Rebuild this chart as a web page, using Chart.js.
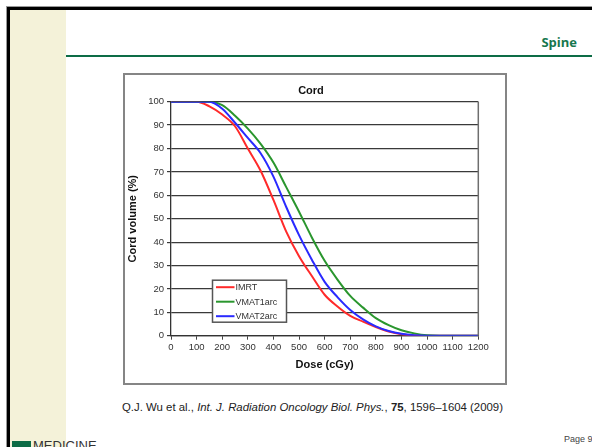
<!DOCTYPE html>
<html>
<head>
<meta charset="utf-8">
<script src="https://cdn.jsdelivr.net/npm/chart.js@4.4.1/dist/chart.umd.min.js"></script>
<style>
    body { margin: 0; background: #fff; width: 592px; height: 447px; overflow: hidden; position: relative; font-family: "Liberation Sans", Arial, sans-serif; }
    .frame-gray { position: absolute; left: 6px; top: 6px; width: 600px; height: 460px; border-top: 1px solid #999; border-left: 1px solid #999; }
    .frame { position: absolute; left: 7px; top: 7px; width: 600px; height: 460px; border-top: 3px solid #000; border-left: 3px solid #000; }
    .side { position: absolute; left: 10px; top: 10px; width: 56px; height: 437px; background: #f4f2d9; }
    .rule { position: absolute; left: 66px; top: 55px; width: 526px; height: 2px; background: #0d6c46; }
    .heading { position: absolute; right: 15px; top: 33px; font: bold 13px "Open Sans", sans-serif; color: #17774e; }
    .chart-box { position: absolute; left: 123px; top: 73px; width: 380px; height: 308px; border: 2px solid #858585; }
    .chart-box canvas { position: absolute; left: 0; top: 0; }
    .cite { position: absolute; left: 122px; top: 401px; font-size: 11.4px; color: #222; white-space: nowrap; }
    .logo { position: absolute; left: 12px; top: 441px; width: 19px; height: 10px; background: #0d6c46; }
    .brand { position: absolute; left: 33px; top: 438px; font-size: 13px; color: #333; white-space: nowrap; }
    .page { position: absolute; left: 564px; top: 434px; font-size: 9px; color: #444; white-space: nowrap; }
</style>
</head>
<body>
<div class="frame-gray"></div>
<div class="frame"></div>
<div class="side"></div>
<div class="rule"></div>
<div class="heading">Spine</div>
<div class="chart-box"><canvas id="cordChart" width="380" height="308"></canvas></div>
<div class="cite">Q.J. Wu et al., <i>Int. J. Radiation Oncology Biol. Phys.</i>, <b>75</b>, 1596–1604 (2009)</div>
<div class="logo"></div>
<div class="brand">MEDICINE</div>
<div class="page">Page 9</div>

<script>
// dose (cGy) shared by all three curves
var doses = [0, 50, 100, 150, 200, 250, 300, 350, 400, 450, 500, 550, 600, 650, 700, 750, 800, 850, 900, 950, 1000, 1050, 1100, 1150, 1200];

// cord volume (%)
var imrt     = [100, 100, 100, 98, 94.5, 89.5, 80, 70.5, 58, 44.5, 34, 25.5, 17.5, 12.5, 8.5, 6, 3.7, 1.8, 0.6, 0.1, 0, 0, 0, 0, 0];
var vmat1arc = [100, 100, 100, 100, 98.5, 94, 88.5, 82, 74, 63.5, 53, 42, 32, 24, 17, 12, 7.5, 4.5, 2.3, 1, 0.2, 0, 0, 0, 0];
var vmat2arc = [100, 100, 100, 100, 97, 91, 84.5, 78, 68, 55, 43, 32.5, 23, 16.5, 11, 7, 4, 2, 0.8, 0.2, 0, 0, 0, 0, 0];

var seriesNames = ['IMRT', 'VMAT1arc', 'VMAT2arc'];
var seriesColors = ['#ff2a2a', '#2a962e', '#2a2aff'];
var xTicks = [0, 100, 200, 300, 400, 500, 600, 700, 800, 900, 1000, 1100, 1200];
var yTicks = [0, 10, 20, 30, 40, 50, 60, 70, 80, 90, 100];
var chartTitle = 'Cord';

function toPoints(values) {
    return doses.map(function (d, i) { return { x: d, y: values[i] }; });
}

var cordExtras = {
    id: 'cordExtras',
    afterDraw: function (chart) {
        var ctx = chart.ctx;
        var area = chart.chartArea;
        ctx.save();

        // right edge of the plot
        ctx.strokeStyle = '#6e6e6e';
        ctx.lineWidth = 1.5;
        ctx.beginPath();
        ctx.moveTo(area.right, area.top);
        ctx.lineTo(area.right, area.bottom);
        ctx.stroke();

        // title
        ctx.fillStyle = '#111';
        ctx.font = 'bold 11px "Liberation Sans"';
        ctx.textAlign = 'center';
        ctx.textBaseline = 'middle';
        ctx.fillText(chartTitle, 186, 16);

        // legend box inside the plot
        var bx = area.left + 41.5, by = area.top + 178.5, bw = 74, bh = 42;
        ctx.fillStyle = '#fff';
        ctx.fillRect(bx, by, bw, bh);
        ctx.strokeStyle = '#555';
        ctx.lineWidth = 1.5;
        ctx.strokeRect(bx, by, bw, bh);
        ctx.font = '9px "Liberation Sans"';
        ctx.textAlign = 'left';
        chart.data.datasets.forEach(function (ds, i) {
            var ly = by + 7 + i * 14.5;
            ctx.strokeStyle = ds.borderColor;
            ctx.lineWidth = 2;
            ctx.beginPath();
            ctx.moveTo(bx + 3.5, ly);
            ctx.lineTo(bx + 22, ly);
            ctx.stroke();
            ctx.fillStyle = '#333';
            ctx.fillText(ds.label, bx + 23, ly + 0.5);
        });
        ctx.restore();
    }
};

var ctx = document.getElementById('cordChart').getContext('2d');
new Chart(ctx, {
    type: 'line',
    data: {
        datasets: [
            { label: seriesNames[0], data: toPoints(imrt), borderColor: seriesColors[0], order: 2 },
            { label: seriesNames[1], data: toPoints(vmat1arc), borderColor: seriesColors[1], order: 1 },
            { label: seriesNames[2], data: toPoints(vmat2arc), borderColor: seriesColors[2], order: 0 }
        ]
    },
    options: {
        responsive: false,
        animation: false,
        devicePixelRatio: 1,
        layout: { padding: { top: 26.7, right: 26.7, bottom: 0, left: 0 } },
        elements: {
            line: { borderWidth: 2, cubicInterpolationMode: 'monotone' },
            point: { radius: 0 }
        },
        plugins: {
            legend: { display: false },
            title: { display: false },
            tooltip: { enabled: false }
        },
        scales: {
            x: {
                type: 'linear',
                min: 0,
                max: 1200,
                afterBuildTicks: function (scale) {
                    scale.ticks = xTicks.map(function (v) { return { value: v }; });
                },
                afterFit: function (scale) { scale.height = 47.3; },
                grid: { drawOnChartArea: false, drawTicks: true, tickLength: 4, color: '#444' },
                border: { color: '#333', width: 1.3 },
                ticks: {
                    padding: 2,
                    maxRotation: 0,
                    autoSkip: false,
                    color: '#333',
                    font: { family: 'Liberation Sans', size: 9.5 },
                    callback: function (value) { return String(value); }
                },
                title: {
                    display: true,
                    text: 'Dose (cGy)',
                    color: '#111',
                    padding: { top: 0, bottom: 11 },
                    font: { family: 'Liberation Sans', size: 11, weight: 'bold' }
                }
            },
            y: {
                min: 0,
                max: 100,
                afterBuildTicks: function (scale) {
                    scale.ticks = yTicks.map(function (v) { return { value: v }; });
                },
                afterFit: function (scale) { scale.width = 46; },
                grid: { color: '#3a3a3a', lineWidth: 1.2, tickLength: 4 },
                border: { color: '#333', width: 1.3 },
                ticks: {
                    padding: 3,
                    autoSkip: false,
                    color: '#333',
                    font: { family: 'Liberation Sans', size: 9.5 },
                    callback: function (value) { return String(value); }
                },
                title: {
                    display: true,
                    text: 'Cord volume (%)',
                    color: '#111',
                    padding: { top: 1, bottom: 0 },
                    font: { family: 'Liberation Sans', size: 11, weight: 'bold' }
                }
            }
        }
    },
    plugins: [cordExtras]
});
</script>
</body>
</html>
